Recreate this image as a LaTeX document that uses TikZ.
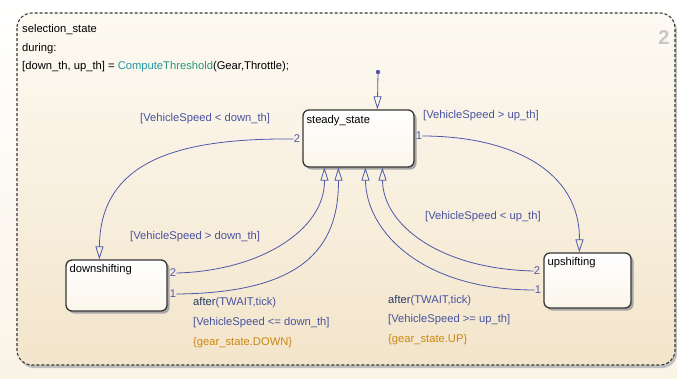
\documentclass[tikz,border=0pt]{standalone}
\usepackage{fontspec}
\setmainfont{Liberation Sans}
\usetikzlibrary{arrows.meta}

\definecolor{trcol}{RGB}{78,88,168}
\definecolor{lblcol}{RGB}{72,82,160}
\definecolor{navycol}{RGB}{38,58,100}
\definecolor{tealA}{RGB}{32,150,165}
\definecolor{tealB}{RGB}{40,150,125}
\definecolor{orcol}{RGB}{205,135,20}
\definecolor{edgecol}{RGB}{55,55,55}
\definecolor{bgtop}{RGB}{253,250,243}
\definecolor{bgbot}{RGB}{243,229,203}

\tikzset{
  txt/.style={font=\fontsize{11.2}{13}\selectfont, inner sep=0pt, anchor=west},
  statebox/.style={draw=edgecol, line width=1.3pt, rounded corners=6pt,
    top color=white, bottom color=bgtop!80!bgbot, inner sep=0pt},
  sname/.style={txt, anchor=north west, text=black},
  num/.style={txt, anchor=center, text=trcol},
  tr/.style={draw=trcol, line width=0.8pt,
    -{Triangle[open, length=13pt, width=8pt, line width=0.8pt]}},
  guard/.style={txt, text=lblcol},
}

\begin{document}
\begin{tikzpicture}[x=1pt, y=-1pt]
\useasboundingbox (0,0) rectangle (677,378);
\fill[top color=white, bottom color=bgtop!70!bgbot] (0,0) rectangle (677,378);

% superstate with shadow
\fill[black!25, rounded corners=15pt] (19,16) rectangle (677,368);
\draw[edgecol, line width=1.1pt, dash pattern=on 3pt off 2pt, rounded corners=15pt,
  top color=bgtop, bottom color=bgbot] (17,13) rectangle (675,365);
\node[font=\bfseries\fontsize{20}{20}\selectfont, text=black!22, inner sep=0pt] (idx) at (664,38) {2};

\node[txt] (title) at (22,30) {selection\_state};
\node[txt] (dur) at (22,48.5) {during:};
\node[txt] (act) at (22,67) {[down\_th, up\_th] = \textcolor{tealA}{Compute}\textcolor{tealB}{Threshold}(Gear,Throttle);};

% states (with drop shadows)
\fill[black!35, rounded corners=6pt] (305.5,112.5) rectangle (416.5,169.5);
\fill[black!35, rounded corners=6pt] (68.5,262.5) rectangle (169.5,313.5);
\fill[black!35, rounded corners=6pt] (546.5,255.5) rectangle (633.5,310.5);
\node[statebox, minimum width=111pt, minimum height=57pt] (steady) at (358.5,138.5) {};
\node[statebox, minimum width=101pt, minimum height=51pt] (down) at (116.5,285.5) {};
\node[statebox, minimum width=87pt, minimum height=55pt] (up) at (587.5,280.5) {};
\node[sname] at ([shift={(4,6)}]steady.north west) {steady\_state};
\node[sname] at ([shift={(4,5)}]down.north west) {downshifting};
\node[sname] at ([shift={(4,5)}]up.north west) {upshifting};

% default transition
\fill[trcol] (378,72) circle (2.2pt);
\coordinate (dflt) at (378,72);
\draw[tr] (dflt) -- ([xshift=75pt]steady.north west);

% transition numbers
\node[num] (s2) at (297,139) {2};
\node[num] (s1) at (419,136) {1};
\node[num] (d2) at (173,273) {2};
\node[num] (d1) at (173,294) {1};
\node[num] (u2) at (537,271) {2};
\node[num] (u1) at (538,290) {1};

% transitions
\draw[tr] (s2.west) .. controls (180,138) and (100,160) .. ([xshift=34pt]down.north west);
\draw[tr] (s1.east) .. controls (510,136) and (580,170) .. ([xshift=36pt]up.north west);
\draw[tr] (d2.east) .. controls (260,271) and (325,230) .. ([xshift=22pt]steady.south west);
\draw[tr] (d1.east) .. controls (300,293) and (339,250) .. ([xshift=36pt]steady.south west);
\draw[tr] (u2.west) .. controls (440,269) and (383,225) .. ([xshift=80pt]steady.south west);
\draw[tr] (u1.west) .. controls (420,290) and (366,230) .. ([xshift=63pt]steady.south west);

% transition labels
\node[guard] (g1) at (140,119) {[VehicleSpeed < down\_th]};
\node[guard] (g2) at (423,116) {[VehicleSpeed > up\_th]};
\node[guard] (g3) at (130,237) {[VehicleSpeed > down\_th]};
\node[guard] (g4) at (425,217) {[VehicleSpeed < up\_th]};

\node[txt, text=navycol] (a1) at (193,303) {after\textcolor{lblcol}{(TWAIT,tick)}};
\node[guard] (a1g) at (193,323) {[VehicleSpeed <= down\_th]};
\node[txt, text=orcol] (a1a) at (193,343) {\{gear\_state.DOWN\}};

\node[txt, text=navycol] (a2) at (388,301) {after\textcolor{lblcol}{(TWAIT,tick)}};
\node[guard] (a2g) at (388,320) {[VehicleSpeed >= up\_th]};
\node[txt, text=orcol] (a2a) at (388,340) {\{gear\_state.UP\}};
\end{tikzpicture}
\end{document}
